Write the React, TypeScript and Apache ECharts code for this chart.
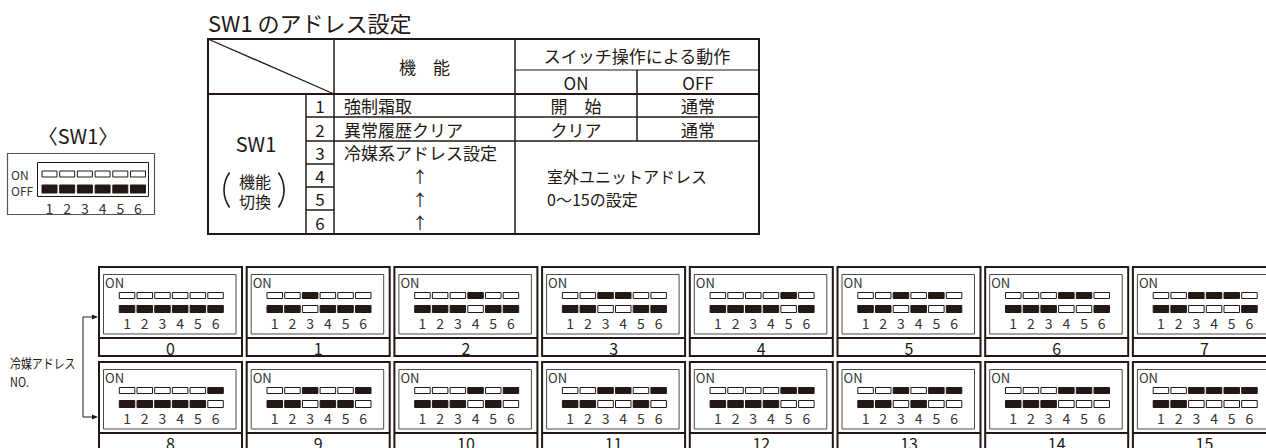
import React, { useEffect, useRef } from "react";
import * as echarts from "echarts";

// ---- data ----
const title = "SW1 のアドレス設定";
const switchLabel = "〈SW1〉";
const dipNumbers = ["1", "2", "3", "4", "5", "6"];
const dipRowLabels = ["ON", "OFF"];
const headerFunction = "機　能";
const headerAction = "スイッチ操作による動作";
const headerOnOff = ["ON", "OFF"];
const rowNumbers = ["1", "2", "3", "4", "5", "6"];
const rowFunctions = ["強制霜取", "異常履歴クリア", "冷媒系アドレス設定", "↑", "↑", "↑"];
const rowOnActions = ["開　始", "クリア"];
const rowOffActions = ["通常", "通常"];
const mergedAction = ["室外ユニットアドレス", "0〜15の設定"];
const groupLabel = "SW1";
const groupSubLabel = ["機能", "切換"];
const addressCaption = ["冷媒アドレス", "NO."];
const addresses = ["0", "1", "2", "3", "4", "5", "6", "7", "8", "9", "10", "11", "12", "13", "14", "15"];
// '1' = switch set to ON (upper box filled), '0' = OFF
const addressPatterns = [
  "000000", "001000", "000100", "001100", "000010", "001010", "000110", "001110",
  "000001", "001001", "000101", "001101", "000011", "001011", "000111", "001111",
];

const INK = "#231815";
const GREY = "#4a4a4a";
const FONT = "'Noto Sans CJK JP', 'Noto Sans', sans-serif";

function txt(x: number, y: number, text: string, size: number, align = "center", extra: any = {}) {
  const { fill, lineHeight, ...rest } = extra;
  return {
    type: "text",
    x,
    y,
    silent: true,
    ...rest,
    style: {
      text,
      fontSize: size,
      fontFamily: FONT,
      fill: fill || INK,
      align,
      verticalAlign: "middle",
      ...(lineHeight ? { lineHeight } : {}),
    },
  };
}
function ln(x1: number, y1: number, x2: number, y2: number, w = 1, color = INK) {
  return {
    type: "line",
    silent: true,
    shape: { x1, y1, x2, y2 },
    style: { stroke: color, lineWidth: w },
  };
}
function box(x: number, y: number, w: number, h: number, fill: string, stroke: string, lw = 1) {
  return {
    type: "rect",
    silent: true,
    shape: { x, y, width: w, height: h },
    style: { fill, stroke, lineWidth: lw },
  };
}

function buildElements() {
  const els: any[] = [];

  // title
  els.push(txt(208, 22, title, 22, "left"));

  // ---- small SW1 picture ----
  els.push(txt(78, 135, switchLabel, 20));
  els.push(box(7.5, 153.5, 147, 61, "#fff", "#555", 1.2));
  els.push(box(37.5, 162.5, 111, 34, "none", INK, 1));
  els.push(txt(11, 174, dipRowLabels[0], 12, "left", { fill: "#333" }));
  els.push(txt(11, 190, dipRowLabels[1], 12, "left", { fill: "#333" }));
  dipNumbers.forEach((n, i) => {
    const sx = 42 + i * 17.7;
    els.push(box(sx, 171, 15, 6, "#fff", INK, 1));
    els.push(box(sx, 185, 15, 8, INK, INK, 1));
    els.push(txt(sx + 7.5, 208, n, 14, "center", { fill: "#333" }));
  });

  // ---- table ----
  const X0 = 208, X1 = 759, XN = 306, XF = 334, XON = 515, XOFF = 637;
  const Y0 = 39, YSUB = 70, YH = 94;
  const rowY = [94, 117, 141, 164, 187, 210, 234];
  const rc = (i: number) => (rowY[i] + rowY[i + 1]) / 2;

  els.push(box(X0, Y0, X1 - X0, rowY[6] - Y0, "none", INK, 2));
  els.push(ln(X0, Y0, XF, YH, 1.3));
  els.push(ln(XF, Y0, XF, rowY[6], 1.5));
  els.push(ln(XON, Y0, XON, rowY[6], 1.5));
  els.push(ln(XOFF, YSUB, XOFF, rowY[2], 1.5));
  els.push(ln(XON, YSUB, X1, YSUB, 1));
  els.push(ln(X0, YH, X1, YH, 2));
  els.push(ln(XN, YH, XN, rowY[6], 1.5));
  els.push(ln(XN, rowY[1], X1, rowY[1], 1.5));
  els.push(ln(XN, rowY[2], X1, rowY[2], 1.5));
  for (let i = 3; i < 6; i++) els.push(ln(XN, rowY[i], XF, rowY[i], 1.5));

  els.push(txt((XF + XON) / 2, (Y0 + YH) / 2, headerFunction, 17));
  els.push(txt((XON + X1) / 2, (Y0 + YSUB) / 2 + 1, headerAction, 17));
  els.push(txt((XON + XOFF) / 2, (YSUB + YH) / 2, headerOnOff[0], 17));
  els.push(txt((XOFF + X1) / 2, (YSUB + YH) / 2, headerOnOff[1], 17));

  rowNumbers.forEach((n, i) => els.push(txt((XN + XF) / 2, rc(i), n, 17)));
  rowFunctions.forEach((f, i) => {
    if (f === "↑") els.push(txt(420, rc(i), f, 16));
    else els.push(txt(344, rc(i), f, 17, "left"));
  });
  rowOnActions.forEach((a, i) => els.push(txt((XON + XOFF) / 2, rc(i), a, 17)));
  rowOffActions.forEach((a, i) => els.push(txt((XOFF + X1) / 2, rc(i), a, 17)));
  els.push(txt(547, rc(3), mergedAction[0], 16, "left"));
  els.push(txt(547, rc(4), mergedAction[1], 16, "left"));

  els.push(txt(256, 143, groupLabel, 20));
  els.push(txt(255, 180.5, groupSubLabel[0], 16));
  els.push(txt(255, 200.5, groupSubLabel[1], 16));
  const th = 0.62;
  els.push({
    type: "arc", silent: true,
    shape: { cx: 254, cy: 190, r: 30, startAngle: Math.PI - th, endAngle: Math.PI + th, clockwise: true },
    style: { stroke: INK, lineWidth: 1.6, fill: "none" },
  });
  els.push({
    type: "arc", silent: true,
    shape: { cx: 254, cy: 190, r: 30, startAngle: -th, endAngle: th, clockwise: true },
    style: { stroke: INK, lineWidth: 1.6, fill: "none" },
  });

  // ---- address caption & bracket ----
  els.push(txt(10, 362, addressCaption[0], 13, "left", { scaleX: 0.84 }));
  els.push(txt(10, 381, addressCaption[1], 13, "left", { scaleX: 0.84 }));
  els.push({
    type: "polyline", silent: true,
    shape: { points: [[93, 317], [83, 317], [83, 417], [93, 417]] },
    style: { stroke: INK, lineWidth: 1, fill: "none" },
  });
  [317, 417].forEach((y) =>
    els.push({
      type: "polygon", silent: true,
      shape: { points: [[98, y], [92, y - 2.5], [92, y + 2.5]] },
      style: { fill: INK },
    })
  );

  // ---- address tiles ----
  addresses.forEach((label, k) => {
    const col = k % 8, row = Math.floor(k / 8);
    const x0 = 99 + col * 147.7;
    const y0 = 267 + row * 95;
    els.push(box(x0, y0, 143, 89, "#fff", INK, 2));
    els.push(box(x0 + 4.5, y0 + 7.5, 132.5, 59.5, "none", GREY, 1));
    els.push(ln(x0, y0 + 71, x0 + 143, y0 + 71, 2));
    els.push(txt(x0 + 6, y0 + 15, dipRowLabels[0], 13, "left", { fill: "#333" }));
    const pat = addressPatterns[k];
    dipNumbers.forEach((n, i) => {
      const sx = x0 + 20.3 + i * 17.7;
      const on = pat[i] === "1";
      els.push(box(sx, y0 + 25.5, 15.5, 6, on ? INK : "#fff", INK, 1));
      els.push(box(sx, y0 + 38.5, 15.5, 7, on ? "#fff" : INK, INK, 1));
      els.push(txt(sx + 7.75, y0 + 56, n, 14, "center", { fill: "#333" }));
    });
    els.push(txt(x0 + 71.5, y0 + 81, label, 16));
  });

  return els;
}

export default function App() {
  const ref = useRef<HTMLDivElement>(null);
  useEffect(() => {
    if (!ref.current) return;
    const chart = echarts.init(ref.current, undefined, { renderer: "svg" });
    chart.setOption({
      animation: false,
      backgroundColor: "#ffffff",
      graphic: { elements: buildElements() },
    });
    return () => chart.dispose();
  }, []);
  return (
    <div
      ref={ref}
      style={{ position: "absolute", left: 0, top: 0, width: 1266, height: 448, background: "#fff" }}
    />
  );
}
